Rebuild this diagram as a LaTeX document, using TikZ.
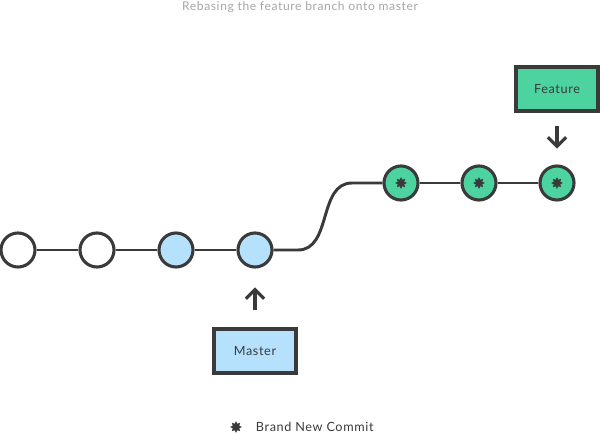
\documentclass[tikz,border=0pt]{standalone}
\usepackage{fontspec}
\setsansfont[LetterSpace=5]{Lato}
\RequirePackage{xcolor}
\definecolor{ink}{HTML}{3A3A3A}
\definecolor{newgreen}{HTML}{4CD3A0}
\definecolor{oldblue}{HTML}{B5E1FD}
\tikzset{every picture/.style={/utils/exec={\sffamily}}}
\tikzset{
  commit/.style={circle, draw=ink, line width=2.2pt, minimum size=0.85cm, inner sep=0pt, fill=white},
  oldcommit/.style={commit, fill=oldblue},
  newcommit/.style={commit, fill=newgreen},
  newmark/.style={star, star points=8, star point ratio=1.7, fill=ink, inner sep=0pt, minimum size=8.5pt},
  branch/.style={draw=ink, line width=2.2pt, minimum width=2.05cm, minimum height=1.1cm, font=\small, text=ink},
  link/.style={draw=ink, line width=2.1pt},
  pointer/.style={draw=ink, line width=2.2pt, -{Straight Barb[length=6.5pt,width=13pt]}}
}
\usetikzlibrary{calc}
\usetikzlibrary{positioning}
\usetikzlibrary{arrows.meta}
\usetikzlibrary{shapes.geometric}

\begin{document}
\begin{tikzpicture}[x=0.025cm,y=-0.025cm]
  \useasboundingbox (0,0) rectangle (600,434);
  \node [font=\fontsize{8.6}{10}\selectfont, text=gray!70, anchor=base] (title) at (300,10.5) {Rebasing the feature branch onto master};

  \node [commit] (c1) at (18,250) {};
  \node [commit] (c2) at (97,250) {};
  \node [oldcommit] (c3) at (176,250) {};
  \node [oldcommit] (c4) at (255,250) {};
  \node [newcommit] (n1) at (401,183) {};
  \node [newcommit] (n2) at (479,183) {};
  \node [newcommit] (n3) at (557,183) {};
  \foreach \n in {n1,n2,n3}
    \node [newmark] at (\n) {};

  \draw [link] (c1) -- (c2);
  \draw [link] (c2) -- (c3);
  \draw [link] (c3) -- (c4);
  \draw [link] (c4.east) -- (298,250) .. controls (332,250) and (318,183) .. (352,183) -- (n1.west);
  \draw [link] (n1) -- (n2);
  \draw [link] (n2) -- (n3);

  \node [branch, fill=oldblue] (master) at (255,351) {Master};
  \node [branch, fill=newgreen] (feature) at (557,89) {Feature};
  \draw [pointer] (master.north) ++(0,-17) -- ++(0,-23);
  \draw [pointer] (feature.south) ++(0,13) -- ++(0,23);

  \node [newmark] (mark) at (236,427) {};
  \node [font=\small, text=ink, anchor=west] (legend) at (251,427) {Brand New Commit};
\end{tikzpicture}
\end{document}
